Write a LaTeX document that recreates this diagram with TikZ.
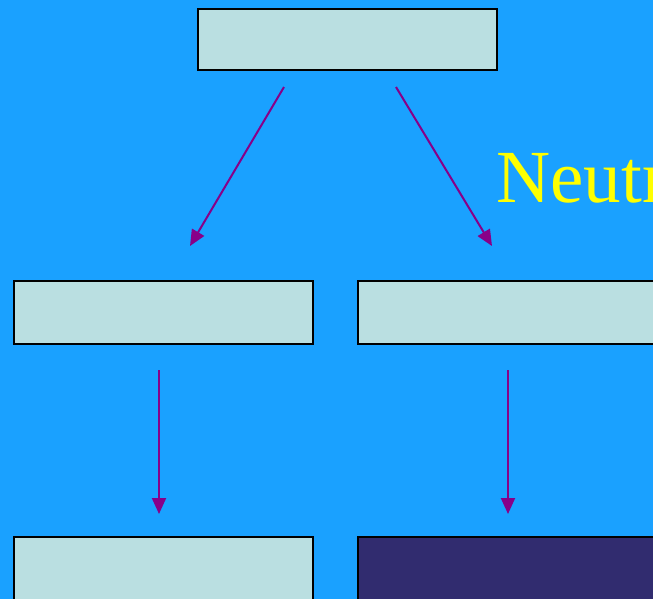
\documentclass[tikz,border=0pt]{standalone}
\usepackage{fontspec}
\setmainfont{Liberation Serif}
\usetikzlibrary{arrows.meta}
\definecolor{bgblue}{HTML}{1AA1FF}
\definecolor{boxfill}{HTML}{BADFE1}
\definecolor{darkbox}{HTML}{312C6F}
\definecolor{arrowpurple}{HTML}{880088}
\definecolor{txtyellow}{HTML}{FFFF00}
\tikzset{
  px/.style={x=1pt,y=-1pt},
  boxnode/.style={draw=black,line width=2.6pt,fill=boxfill,minimum width=299pt,minimum height=61pt,inner sep=0pt,anchor=north west},
  darknode/.style={boxnode,fill=darkbox},
  conn/.style={draw=arrowpurple,line width=2pt,-{Triangle[length=16pt,width=14pt]}},
}
\begin{document}
\begin{tikzpicture}[px]
\useasboundingbox (0,0) rectangle (653,598);
\clip (0,0) rectangle (653,598);
\fill[bgblue] (-5,-5) rectangle (660,605);
\node[boxnode] (top) at (196.5,7.5) {};
\node[boxnode,minimum height=63pt] (midL) at (12.5,279.5) {};
\node[boxnode,minimum height=63pt] (midR) at (356.5,279.5) {};
\node[boxnode,minimum height=80pt] (botL) at (12.5,535.5) {};
\node[darknode,minimum height=80pt] (botR) at (356.5,535.5) {};
\node[anchor=base west,inner sep=0pt,text=txtyellow,font=\fontsize{75}{80}\selectfont] (label) at (496,202) {Neutr};
\coordinate (a1s) at (284,87);
\coordinate (a1e) at (190,246);
\coordinate (a2s) at (396,87);
\coordinate (a2e) at (492,246);
\coordinate (a3s) at (159,370);
\coordinate (a3e) at (159,514);
\coordinate (a4s) at (508,370);
\coordinate (a4e) at (508,514);
\draw[conn] (a1s) -- (a1e);
\draw[conn] (a2s) -- (a2e);
\draw[conn] (a3s) -- (a3e);
\draw[conn] (a4s) -- (a4e);
\end{tikzpicture}
\end{document}
